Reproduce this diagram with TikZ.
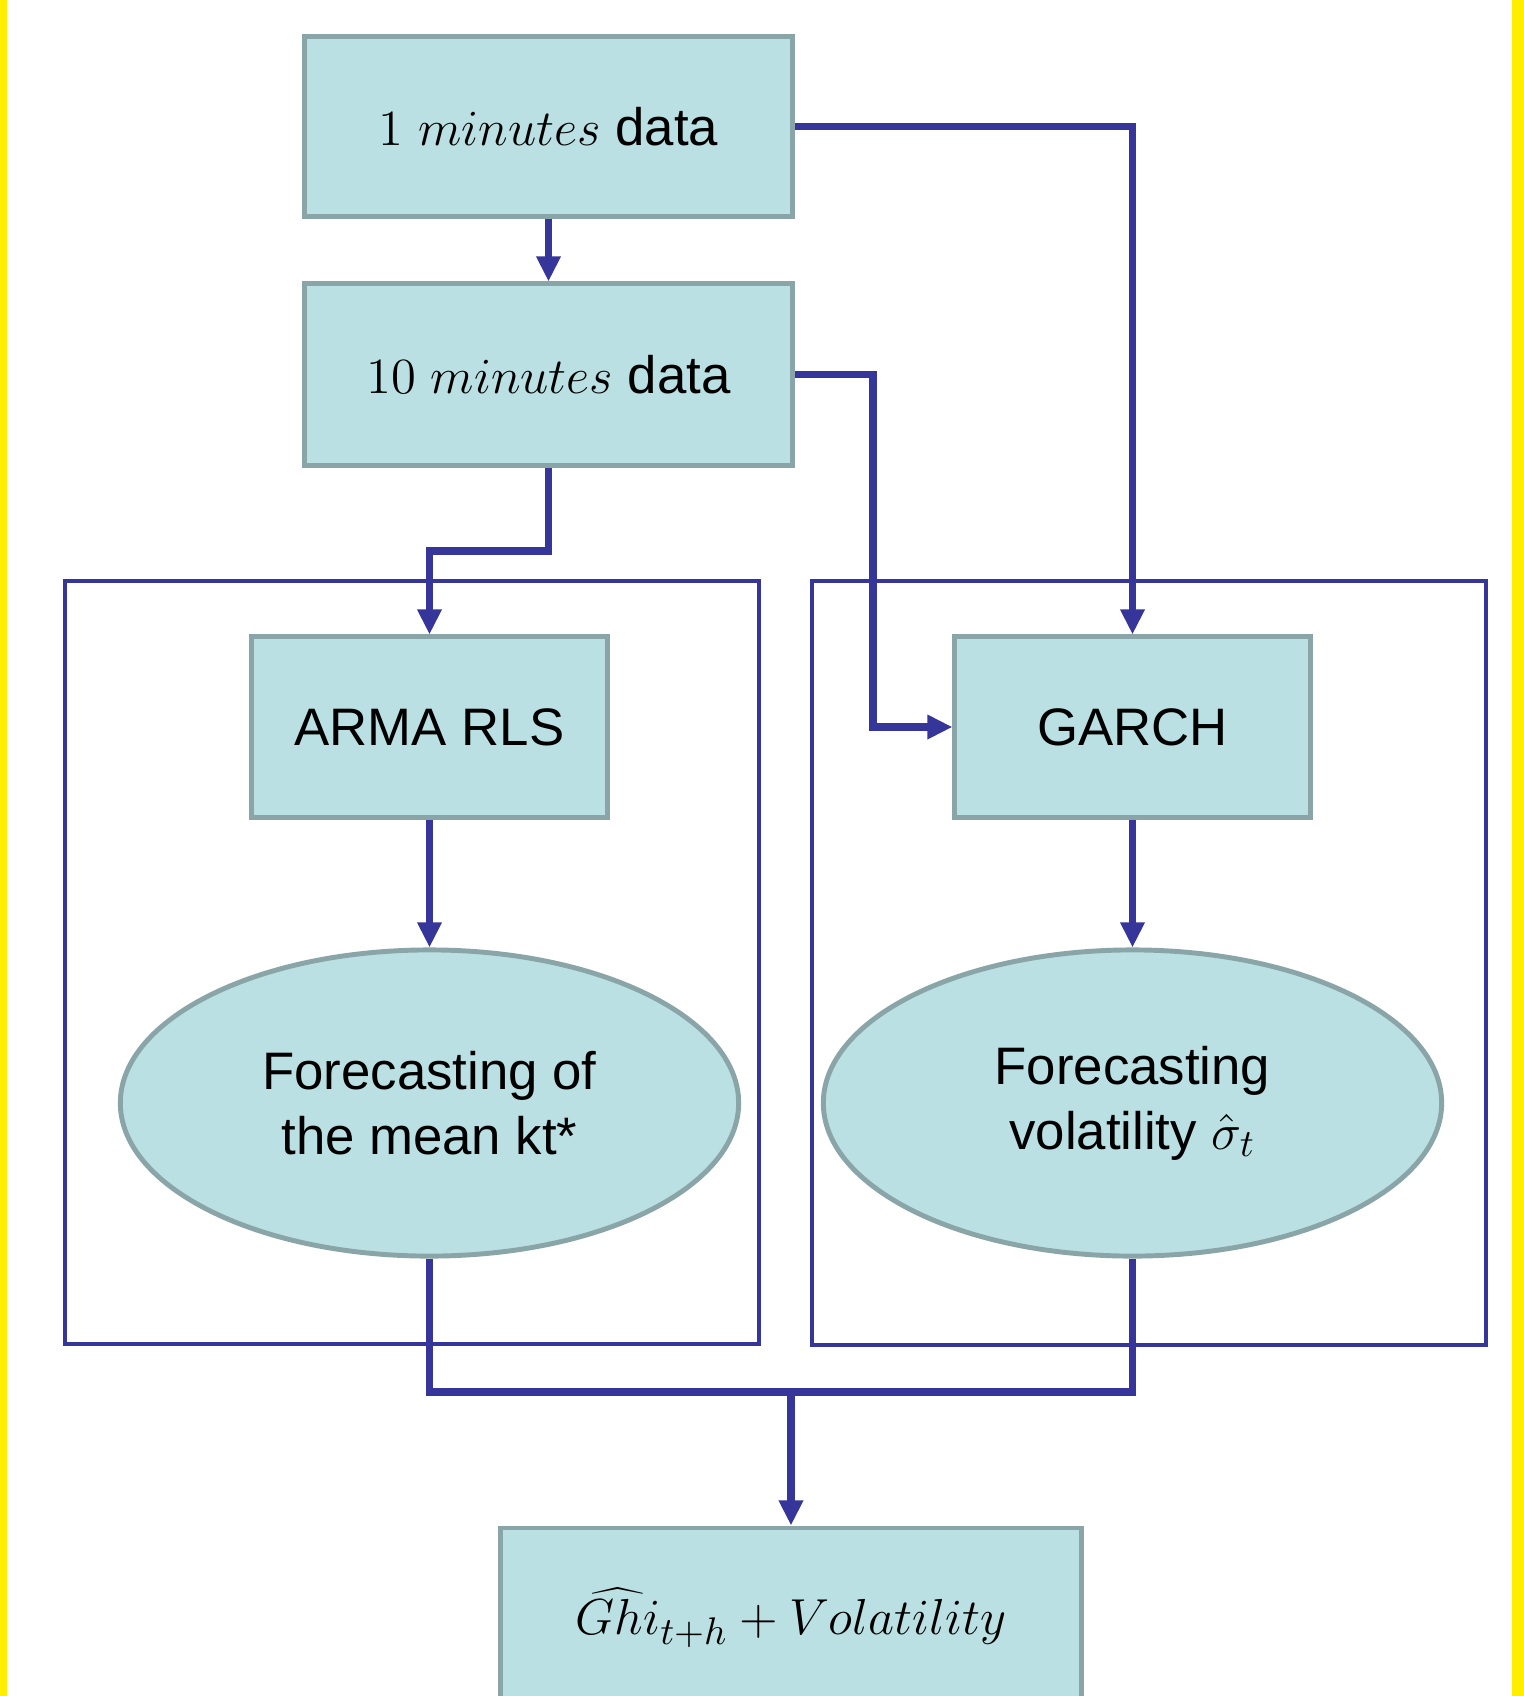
\documentclass[tikz,border=0pt]{standalone}
\usepackage{fontspec}
\setmainfont{Liberation Sans}
\usepackage{xcolor}
\usetikzlibrary{shapes.geometric,arrows.meta}
\definecolor{boxFill}{HTML}{BAE0E3}
\definecolor{boxLine}{HTML}{8AA5A8}
\definecolor{flowBlue}{HTML}{35359A}
\definecolor{edgeYellow}{HTML}{FFEE00}

\begin{document}
\begin{tikzpicture}[x=0.01cm, y=-0.01cm,
        box/.style={rectangle, draw=boxLine, fill=boxFill, line width=1.4pt, inner sep=0pt,
            align=center, font=\fontsize{15}{18.5}\selectfont},
        blob/.style={box, ellipse},
        flow/.style={draw=flowBlue, line width=2.1pt, -{Triangle[length=0.25cm,width=0.23cm]}},
        link/.style={draw=flowBlue, line width=2.1pt},
        group/.style={draw=flowBlue, line width=1.1pt}]
                \useasboundingbox (0, 0) rectangle (1524, 1696);
                \clip (0, 0) rectangle (1524, 1696);
                \fill[white] (0, 0) rectangle (1524, 1696);
                \fill[edgeYellow] (0, 0) rectangle (7, 1696);
                \fill[edgeYellow] (1512, 0) rectangle (1524, 1696);
                % the two model groups
                \draw[group] (65, 581) rectangle (759, 1344);
                \draw[group] (812, 581) rectangle (1486, 1345);
                % data boxes
                \node[box, minimum width=4.87cm, minimum height=1.79cm] (min1) at (548.5, 126.5) {$1\ minutes$ data};
                \node[box, minimum width=4.87cm, minimum height=1.81cm] (min10) at (548.5, 374.5) {$10\ minutes$ data};
                % models
                \node[box, minimum width=3.55cm, minimum height=1.80cm] (arma) at (429.5, 727) {ARMA RLS};
                \node[box, minimum width=3.55cm, minimum height=1.80cm] (garch) at (1132.5, 727) {GARCH};
                \node[blob, minimum width=6.18cm, minimum height=3.06cm] (fmean) at (429.5, 1103) {Forecasting of\\the mean kt*};
                \node[blob, minimum width=6.18cm, minimum height=3.06cm] (fvol) at (1132.5, 1103) {Forecasting\\volatility $\hat{\sigma}_t$};
                % output
                \node[box, minimum width=5.80cm, minimum height=1.80cm] (out) at (791, 1618) {$\widehat{Ghi}_{t+h} + Volatility$};
                % connectors
                \coordinate (k1) at (873, 374.5);
                \coordinate (k2) at (548.5, 551);
                \coordinate (jn) at (791, 1392);
                \draw[flow] (min1.south) -- (min10.north);
                \draw[flow] (min1.east) -| (garch.north);
                \draw[flow] (min10.east) -- (k1) |- (garch.west);
                \draw[flow] (min10.south) -- (k2) -| (arma.north);
                \draw[flow] (arma.south) -- (fmean.north);
                \draw[flow] (garch.south) -- (fvol.north);
                \draw[link] (fmean.south) |- (jn) -| (fvol.south);
                \draw[flow] (jn) -- (out.north);
            \end{tikzpicture}
\end{document}
